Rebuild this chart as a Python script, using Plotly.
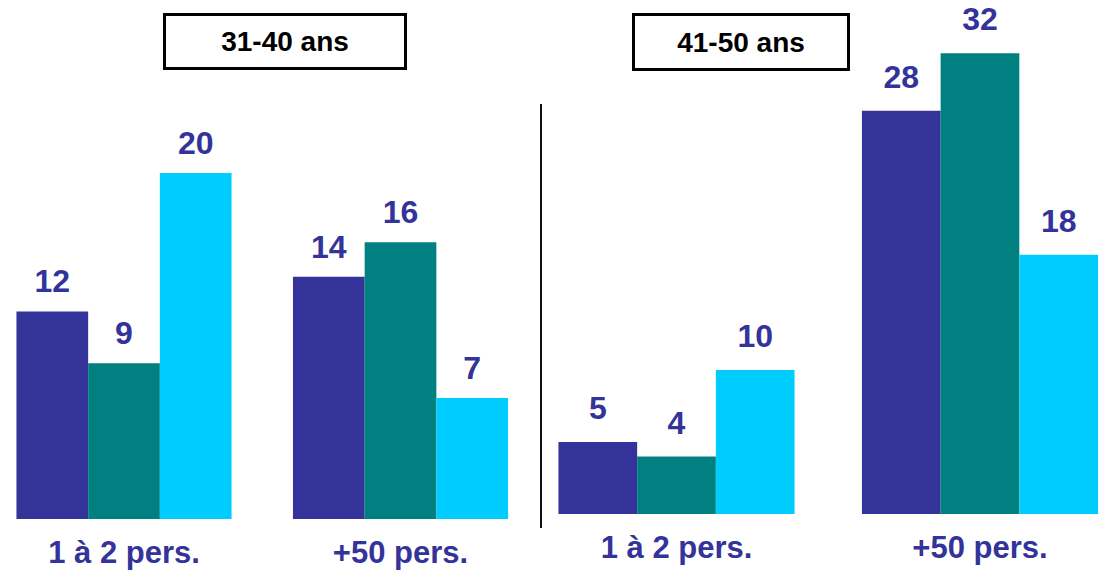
import plotly.graph_objects as go

categories = ["1 à 2 pers.", "+50 pers."]
series_names = ["Série A", "Série B", "Série C"]
colors = ["#333399", "#008080", "#00CCFF"]

# 31-40 ans
left_values = [
    [12, 14],
    [9, 16],
    [20, 7],
]
# 41-50 ans
right_values = [
    [5, 28],
    [4, 32],
    [10, 18],
]
panel_titles = ["31-40 ans", "41-50 ans"]

FONT = "Liberation Sans, Arial, sans-serif"
LABEL_COLOR = "#333399"

fig = go.Figure()

for vals, xa, ya, msize in [(left_values, "x", "y", 16), (right_values, "x2", "y2", 22)]:
    for i, name in enumerate(series_names):
        fig.add_trace(go.Bar(
            x=categories, y=vals[i], name=name, marker_color=colors[i],
            marker_line_width=0, xaxis=xa, yaxis=ya, showlegend=False,
            hoverinfo="skip",
        ))
    for i, name in enumerate(series_names):
        fig.add_trace(go.Scatter(
            x=categories, y=vals[i], mode="markers+text", text=[str(v) for v in vals[i]],
            textposition="top center",
            textfont=dict(family=FONT, size=32, color=LABEL_COLOR, weight="bold"),
            marker=dict(size=msize, opacity=0), xaxis=xa, yaxis=ya,
            showlegend=False, hoverinfo="skip", cliponaxis=False,
        ))

W, H = 1101, 574
axis_common = dict(showgrid=False, zeroline=False, showline=False, ticks="",
                   tickfont=dict(family=FONT, size=31, color=LABEL_COLOR, weight="bold"),
                   ticklabelstandoff=12, fixedrange=True)

fig.update_layout(
    width=W, height=H,
    margin=dict(l=0, r=0, t=0, b=0),
    paper_bgcolor="white", plot_bgcolor="white",
    barmode="group", bargap=0.222, bargroupgap=0,
    scattermode="group", scattergap=0.222,
    xaxis=dict(domain=[0, 540 / W], range=[-0.4485, 1.5045], type="category", **axis_common),
    xaxis2=dict(domain=[545 / W, 1], range=[-0.4333, 1.3987], type="category", anchor="y2", **axis_common),
    yaxis=dict(domain=[1 - 519 / H, 1], range=[0, 519 / 17.3], visible=False, fixedrange=True),
    yaxis2=dict(domain=[1 - 514 / H, 1], range=[0, 514 / 14.4], visible=False, anchor="x2", fixedrange=True),
    shapes=[dict(type="line", xref="paper", yref="paper",
                 x0=541 / W, x1=541 / W, y0=1 - 528 / H, y1=1 - 104 / H,
                 line=dict(color="#111111", width=2))],
    annotations=[
        dict(text=panel_titles[0], xref="paper", yref="paper", x=285 / W, y=1 - 41.5 / H,
             xanchor="center", yanchor="middle", showarrow=False,
             font=dict(family=FONT, size=28, color="black", weight="bold"),
             bordercolor="black", borderwidth=3, borderpad=0, bgcolor="white",
             width=238, height=51),
        dict(text=panel_titles[1], xref="paper", yref="paper", x=741 / W, y=1 - 42 / H,
             xanchor="center", yanchor="middle", showarrow=False,
             font=dict(family=FONT, size=28, color="black", weight="bold"),
             bordercolor="black", borderwidth=3, borderpad=0, bgcolor="white",
             width=212, height=52),
    ],
)

fig.write_html("out.html")
